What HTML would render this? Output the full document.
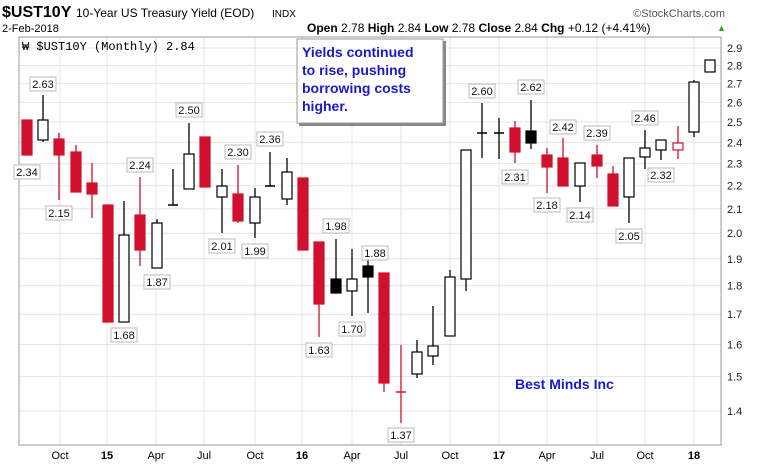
<!DOCTYPE html><html><head><style>
body{margin:0;background:#fff;font-family:"Liberation Sans",sans-serif}
</style></head><body>
<svg id="s" width="780" height="469" xmlns="http://www.w3.org/2000/svg" font-family="Liberation Sans, sans-serif"></svg>
<script>
const s=document.getElementById('s');let h='';
const Y=v=>48+498.5*(Math.log(2.9)-Math.log(v));
// grid
for(let v=1.4;v<=2.91;v+=0.1){let y=Y(v).toFixed(1);h+=`<line x1="19" x2="721" y1="${y}" y2="${y}" stroke="#e4e4e4"/>`;h+=`<text x="727" y="${+y+4}" font-size="11" fill="#222">${v.toFixed(1)}</text>`;}
const xl=[[60,'Oct'],[107,'15',1],[156,'Apr'],[204,'Jul'],[255,'Oct'],[302,'16',1],[352,'Apr'],[401,'Jul'],[450,'Oct'],[499,'17',1],[547,'Apr'],[597,'Jul'],[645,'Oct'],[694,'18',1]];
for(const [x,t,b] of xl){h+=`<line x1="${x}" x2="${x}" y1="37" y2="445" stroke="#e4e4e4"/><text x="${x}" y="459" font-size="11" text-anchor="middle" ${b?'font-weight="bold" font-size="12"':''}>${t}</text>`;}
h+=`<rect x="19" y="37" width="702" height="408" fill="none" stroke="#999"/>`;
// candles: x, wt, wb, bt, bb, type (r red, w white, k black, p red-outline white, d doji)
const C=[[27,120,155,120,155,'r'],[43,95,142,120,140,'w'],[59,133,200,139,155,'r'],[76,145,192,152,192,'r'],[92,163,218,183,194,'r'],[108,205,322,205,322,'r'],[124,201,322,235,322,'w'],[140,177,266,215,250,'r'],[157,219,268,223,268,'w'],[173,169,205,205,205,'d'],[189,123,189,154,189,'w'],[205,137,187,137,187,'r'],[222,169,233,186,197,'w'],[238,165,223,194,221,'r'],[255,188,238,197,223,'w'],[270,152,186,186,186,'d'],[287,158,205,172,199,'w'],[303,178,250,178,250,'r'],[319,242,337,242,304,'r'],[336,239,293,279,293,'k'],[352,249,316,279,291,'w'],[368,250,313,266,277,'k'],[384,273,392,273,383,'r'],[401,345,423,392,392,'dr'],[417,340,378,352,374,'w'],[433,306,365,346,356,'w'],[450,270,336,277,336,'w'],[466,150,291,150,279,'w'],[482,103,158,133,133,'d'],[499,118,159,133,133,'d'],[515,121,163,128,152,'r'],[531,100,149,131,143,'k'],[547,148,193,155,167,'r'],[563,138,186,158,186,'r'],[580,163,202,163,186,'w'],[597,145,178,155,166,'r'],[613,166,206,174,206,'r'],[629,158,223,158,197,'w'],[645,130,169,148,157,'w'],[661,140,160,140,150,'w'],[678,126,159,143,150,'p'],[694,80,137,82,132,'w'],[710,60,72,60,72,'w']];
for(const [x,wt,wb,bt,bb,t] of C){
 const col=(t=='r'||t=='p'||t=='dr')?'#d0102c':'#000';
 h+=`<line x1="${x}" x2="${x}" y1="${wt}" y2="${wb}" stroke="${col}" stroke-width="1.3"/>`;
 if(t[0]=='d'){h+=`<line x1="${x-5}" x2="${x+5}" y1="${bt}" y2="${bt}" stroke="${col}" stroke-width="1.5"/>`;continue;}
 const f=t=='r'?'#d0102c':t=='k'?'#000':'#fff';
 h+=`<rect x="${x-5}" y="${bt}" width="10" height="${Math.max(bb-bt,2)}" fill="${f}" stroke="${col}" stroke-width="1.2"/>`;
}
// labels: x, y(center), text, up(pointer below label => label above)
const L=[[27,172,'2.34',0],[43,84,'2.63',1],[59,213,'2.15',0],[140,165,'2.24',1],[124,335,'1.68',0],[157,282,'1.87',0],[189,110,'2.50',1],[222,246,'2.01',0],[238,152,'2.30',1],[255,251,'1.99',0],[270,139,'2.36',1],[319,350,'1.63',0],[336,226,'1.98',1],[352,329,'1.70',0],[375,253,'1.88',1],[401,435,'1.37',0],[482,91,'2.60',1],[515,177,'2.31',0],[531,87,'2.62',1],[547,205,'2.18',0],[563,127,'2.42',1],[580,215,'2.14',0],[597,133,'2.39',1],[629,236,'2.05',0],[645,118,'2.46',1],[661,175,'2.32',0]];
for(const [x,y,t,u] of L){
 h+=`<rect x="${x-13}" y="${y-7}" width="26" height="14" fill="#fff" stroke="#bbb"/>`;
 h+=`<text x="${x}" y="${y+4}" font-size="11" text-anchor="middle" fill="#111">${t}</text>`;
}
// header
h+=`<text x="2" y="17" font-size="16" font-weight="bold">$UST10Y</text><text x="76" y="17" font-size="12">10-Year US Treasury Yield (EOD)</text><text x="272" y="17" font-size="10">INDX</text>`;
h+=`<text x="725" y="17" font-size="11" fill="#555" text-anchor="end">©StockCharts.com</text>`;
h+=`<text x="2" y="32" font-size="11">2-Feb-2018</text>`;
h+=`<text x="307" y="32" font-size="12"><tspan font-weight="bold">Open</tspan> 2.78 <tspan font-weight="bold">High</tspan> 2.84 <tspan font-weight="bold">Low</tspan> 2.78 <tspan font-weight="bold">Close</tspan> 2.84 <tspan font-weight="bold">Chg</tspan> +0.12 (+4.41%)</text><text x="717" y="31" font-size="9" fill="#2a2">▲</text>`;
h+=`<text x="22" y="50" font-size="12" font-family="Liberation Mono, monospace">₩ $UST10Y (Monthly) 2.84</text>`;
// annotation
h+=`<rect x="299" y="41" width="147" height="85" fill="#888"/><rect x="297" y="39" width="146" height="84" fill="#fff" stroke="#999"/>`;
h+=`<text font-size="14" font-weight="bold" fill="#1a1acc"><tspan x="302" y="57">Yields continued</tspan><tspan x="302" y="75">to rise, pushing</tspan><tspan x="302" y="93">borrowing costs</tspan><tspan x="302" y="111">higher.</tspan></text>`;
h+=`<text x="515" y="389" font-size="14" font-weight="bold" fill="#1a1acc">Best Minds Inc</text>`;
s.innerHTML=h;
</script></body></html>
